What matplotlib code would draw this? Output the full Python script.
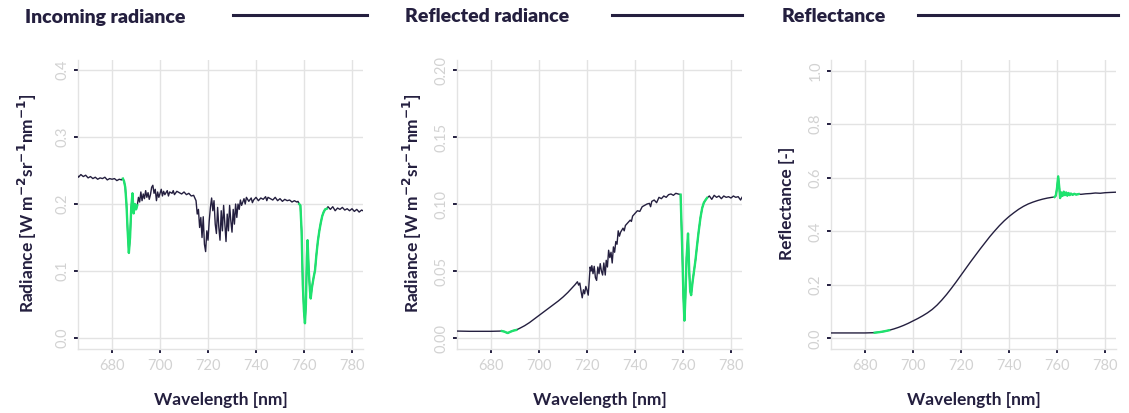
import numpy as np
import matplotlib
matplotlib.use("Agg")
import matplotlib.pyplot as plt
from matplotlib.lines import Line2D

DARK = '#241f3f'
GREEN = '#1ee36e'
GRID = '#e3e3e3'
TICKLAB = '#d2d2d2'
plt.rcParams['font.family'] = ['Lato', 'DejaVu Sans']

# incoming radiance
wl_in = [665.5, 666, 667, 668, 669, 670, 671, 672, 673, 674, 675, 676, 677, 678, 679, 680,
         681, 682, 683, 684, 684.5, 685, 685.5, 686, 686.5, 687, 687.5, 688, 688.5, 689,
         689.5, 690, 690.5, 691, 691.5, 692, 692.5, 693, 693.5, 694, 694.5, 695, 695.5,
         696, 696.5, 697, 697.5, 698, 698.5, 699, 699.5, 700, 700.5, 701, 701.5, 702, 703,
         703.5, 704, 705, 705.5, 706, 707, 708, 709, 710, 711, 712, 713, 714, 715, 715.5,
         716, 716.5, 717, 717.5, 718, 718.5, 719, 719.5, 720, 720.5, 721, 721.5, 722, 722.5,
         723, 723.5, 724, 724.5, 725, 725.5, 726, 726.5, 727, 727.5, 728, 728.5, 729, 729.5,
         730, 730.5, 731, 731.5, 732, 732.5, 733, 733.5, 734, 735, 735.5, 736, 737, 738,
         738.5, 739, 740, 741, 742, 743, 744, 744.5, 745, 746, 747, 748, 749, 750, 751, 752,
         753, 754, 755, 756, 757, 757.5, 758, 758.5, 759, 759.5, 760, 760.4, 760.8, 761.2,
         761.5, 762, 762.5, 762.8, 763.3, 764, 764.6, 765.2, 765.8, 766.4, 767, 767.6, 768.2,
         768.8, 769.5, 770, 771, 772, 773, 774, 775, 776, 777, 778, 779, 780, 781, 782, 783,
         784, 784.6]
rad_in = [0.243, 0.240, 0.244, 0.241, 0.243, 0.239, 0.241, 0.238, 0.240, 0.237, 0.239, 0.238,
          0.240, 0.236, 0.238, 0.237, 0.238, 0.235, 0.237, 0.236, 0.238, 0.234, 0.225, 0.200,
          0.160, 0.127, 0.150, 0.195, 0.216, 0.186, 0.200, 0.192, 0.198, 0.210, 0.203, 0.218,
          0.205, 0.215, 0.208, 0.220, 0.210, 0.217, 0.207, 0.214, 0.225, 0.228, 0.216, 0.222,
          0.205, 0.218, 0.210, 0.216, 0.222, 0.212, 0.219, 0.214, 0.220, 0.212, 0.218, 0.216,
          0.220, 0.214, 0.219, 0.217, 0.215, 0.218, 0.214, 0.216, 0.212, 0.213, 0.205, 0.185,
          0.192, 0.165, 0.180, 0.150, 0.181, 0.140, 0.129, 0.160, 0.146, 0.175, 0.195, 0.209,
          0.190, 0.205, 0.170, 0.156, 0.195, 0.165, 0.146, 0.190, 0.160, 0.198, 0.170, 0.144,
          0.185, 0.160, 0.198, 0.175, 0.158, 0.192, 0.170, 0.200, 0.180, 0.200, 0.192, 0.206,
          0.198, 0.208, 0.200, 0.210, 0.204, 0.209, 0.202, 0.206, 0.210, 0.205, 0.209, 0.207,
          0.211, 0.205, 0.210, 0.208, 0.206, 0.210, 0.205, 0.208, 0.204, 0.207, 0.205, 0.206,
          0.203, 0.205, 0.203, 0.204, 0.200, 0.198, 0.160, 0.080, 0.040, 0.022, 0.050, 0.120,
          0.146, 0.100, 0.070, 0.059, 0.075, 0.090, 0.101, 0.125, 0.145, 0.160, 0.172, 0.182,
          0.188, 0.192, 0.193, 0.196, 0.192, 0.196, 0.190, 0.194, 0.192, 0.195, 0.191, 0.193,
          0.190, 0.193, 0.189, 0.192, 0.188, 0.191, 0.190]

# reflected radiance
wl_out = [665.5, 668, 671, 674, 677, 680, 683, 684.5, 685.5, 686.5, 687, 687.5, 688.5, 689.5,
          690.5, 692, 694, 696, 698, 700, 702, 704, 706, 708, 710, 712, 714, 715, 716, 716.5,
          717, 717.5, 718, 718.5, 719, 719.5, 720, 720.5, 721, 721.3, 721.7, 722, 722.5, 723,
          723.5, 724, 724.5, 725, 725.5, 726, 726.5, 727, 727.6, 728, 728.5, 729, 729.5, 730,
          730.5, 731, 731.5, 732, 732.5, 733, 733.5, 734, 735, 735.5, 736, 737, 738, 738.5,
          739, 740, 741, 742, 743, 744, 745, 746, 746.5, 747, 748, 749, 750, 751, 752, 753,
          754, 755, 756, 757, 758, 759, 759.7, 760.2, 760.6, 761.0, 761.5, 762.1, 762.6,
          763.0, 763.4, 764.0, 764.6, 765.2, 765.8, 766.5, 767.3, 768.0, 768.7, 769.4, 770,
          771, 772, 773, 774, 775, 776, 777, 778, 779, 780, 781, 782, 783, 784, 784.6]
rad_out = [0.0052, 0.0051, 0.0050, 0.0050, 0.0050, 0.0050, 0.0051, 0.0052, 0.0048, 0.0040,
           0.0037, 0.0042, 0.0050, 0.0056, 0.0060, 0.0073, 0.0092, 0.0115, 0.0142, 0.0170,
           0.0196, 0.0222, 0.0249, 0.0276, 0.0306, 0.0340, 0.0378, 0.0398, 0.0420, 0.0395,
           0.0410, 0.0350, 0.0300, 0.0360, 0.0330, 0.0385, 0.0357, 0.0320, 0.0450, 0.0530,
           0.0500, 0.0540, 0.0480, 0.0535, 0.0450, 0.0430, 0.0530, 0.0480, 0.0555, 0.0500,
           0.0470, 0.0560, 0.0470, 0.0580, 0.0530, 0.0655, 0.0600, 0.0640, 0.0560, 0.0680,
           0.0640, 0.0720, 0.0700, 0.0800, 0.0760, 0.0790, 0.0820, 0.0800, 0.0840, 0.0860,
           0.0880, 0.0870, 0.0910, 0.0930, 0.0950, 0.0945, 0.0980, 0.0990, 0.1000, 0.1005,
           0.0980, 0.1020, 0.1030, 0.1010, 0.1050, 0.1040, 0.1060, 0.1050, 0.1070, 0.1075,
           0.1065, 0.1080, 0.1075, 0.1070, 0.0650, 0.0300, 0.0130, 0.0300, 0.0600, 0.0780,
           0.0500, 0.0350, 0.0320, 0.0420, 0.0500, 0.0580, 0.0680, 0.0790, 0.0900, 0.0970,
           0.1010, 0.1030, 0.1045, 0.1060, 0.1035, 0.1065, 0.1050, 0.1060, 0.1040, 0.1060,
           0.1050, 0.1055, 0.1045, 0.1060, 0.1050, 0.1055, 0.1030, 0.1050]

# reflectance
wl_refl = [665.5, 670, 675, 680, 684, 686, 688, 690, 692, 694, 696, 698, 700, 702, 704, 706,
           708, 710, 712, 714, 716, 718, 720, 722, 724, 726, 728, 730, 732, 734, 736, 738,
           740, 742, 744, 746, 748, 750, 752, 754, 756, 758, 759, 759.5, 760, 760.5, 761,
           761.3, 761.8, 762.3, 762.8, 763.3, 763.8, 764.3, 764.8, 765.3, 765.8, 766.5, 767.2,
           768, 769, 770, 772, 774, 776, 778, 780, 782, 784.6]
refl = [0.020, 0.020, 0.020, 0.020, 0.021, 0.023, 0.026, 0.030, 0.035, 0.041, 0.048, 0.056,
        0.065, 0.074, 0.084, 0.095, 0.108, 0.124, 0.143, 0.164, 0.187, 0.211, 0.236, 0.261,
        0.286, 0.310, 0.334, 0.357, 0.380, 0.401, 0.421, 0.439, 0.455, 0.469, 0.482, 0.493,
        0.502, 0.509, 0.515, 0.520, 0.524, 0.527, 0.528, 0.533, 0.560, 0.605, 0.560, 0.524,
        0.545, 0.532, 0.548, 0.535, 0.545, 0.533, 0.543, 0.535, 0.541, 0.536, 0.540, 0.537,
        0.539, 0.538, 0.540, 0.541, 0.543, 0.542, 0.544, 0.545, 0.546]

# O2 absorption bands highlighted in green
bands_in = [(684.5, 690.5), (758.0, 769.5)]
bands_out = [(684.5, 690.5), (758.5, 770.0)]
bands_refl = [(684.0, 690.0), (759.0, 769.0)]

panels = [
    dict(title='Incoming radiance', x=wl_in, y=rad_in, bands=bands_in,
         ylim=(-0.0164, 0.415), yticks=[0.0, 0.1, 0.2, 0.3, 0.4], fmt='{:.1f}',
         ylabel='Radiance [W m$^{\\mathbf{-2}}$sr$^{\\mathbf{-1}}$nm$^{\\mathbf{-1}}$]',
         left=78, ylab_x=27, title_x=25, line=(233, 367)),
    dict(title='Reflected radiance', x=wl_out, y=rad_out, bands=bands_out,
         ylim=(-0.0082, 0.2075), yticks=[0.0, 0.05, 0.10, 0.15, 0.20], fmt='{:.2f}',
         ylabel='Radiance [W m$^{\\mathbf{-2}}$sr$^{\\mathbf{-1}}$nm$^{\\mathbf{-1}}$]',
         left=457, ylab_x=412, title_x=405, line=(612, 742)),
    dict(title='Reflectance', x=wl_refl, y=refl, bands=bands_refl,
         ylim=(-0.04, 1.04), yticks=[0.0, 0.2, 0.4, 0.6, 0.8, 1.0], fmt='{:.1f}',
         ylabel='Reflectance [-]', left=831, ylab_x=787, title_x=782, line=(918, 1118)),
]

W, H = 1129, 413
fig = plt.figure(figsize=(W / 100, H / 100), dpi=100)
top, bottom, pw = 60, 349, 285

for p in panels:
    ax = fig.add_axes([p['left'] / W, (H - bottom) / H, pw / W, (bottom - top) / H])
    x = np.array(p['x'])
    y = np.array(p['y'])
    ax.plot(x, y, color=DARK, lw=1.0, zorder=3)
    for lo, hi in p['bands']:
        m = (x >= lo) & (x <= hi)
        ax.plot(x[m], y[m], color=GREEN, lw=1.7, zorder=4)

    ax.set_xlim(665.8, 784.6)
    ax.set_ylim(*p['ylim'])
    ax.set_xticks([680, 700, 720, 740, 760, 780])
    ax.set_yticks(p['yticks'])
    ax.set_yticklabels([p['fmt'].format(v) for v in p['yticks']])
    ax.grid(True, color=GRID, lw=1.0)
    ax.set_axisbelow(True)
    for s in ['top', 'right']:
        ax.spines[s].set_visible(False)
    for s in ['left', 'bottom']:
        ax.spines[s].set_color(GRID)
        ax.spines[s].set_linewidth(1.0)
    ax.tick_params(axis='both', color=DARK, length=3, width=1.4, labelcolor=TICKLAB,
                   labelsize=10.5)
    ax.tick_params(axis='y', labelrotation=90, pad=3)
    ax.tick_params(axis='x', pad=4)
    for lab in ax.get_yticklabels():
        lab.set_va('center')

    # titles and labels in pixel positions
    fig.text(p['title_x'] / W, 1 - 17 / H, p['title'], fontsize=14, fontweight='heavy',
             color=DARK, ha='left', va='center')
    fig.add_artist(Line2D([p['line'][0] / W, p['line'][1] / W], [1 - 15 / H, 1 - 15 / H],
                          color=DARK, lw=2.2, transform=fig.transFigure))
    fig.text(p['ylab_x'] / W, 1 - 203 / H, p['ylabel'], rotation=90, fontsize=12.5,
             fontweight='bold', color=DARK, ha='center', va='center')
    fig.text((p['left'] + pw / 2) / W, 1 - 400 / H, 'Wavelength [nm]', fontsize=12.5,
             fontweight='bold', color=DARK, ha='center', va='center')

fig.savefig('out.png', dpi=100, facecolor='white')
